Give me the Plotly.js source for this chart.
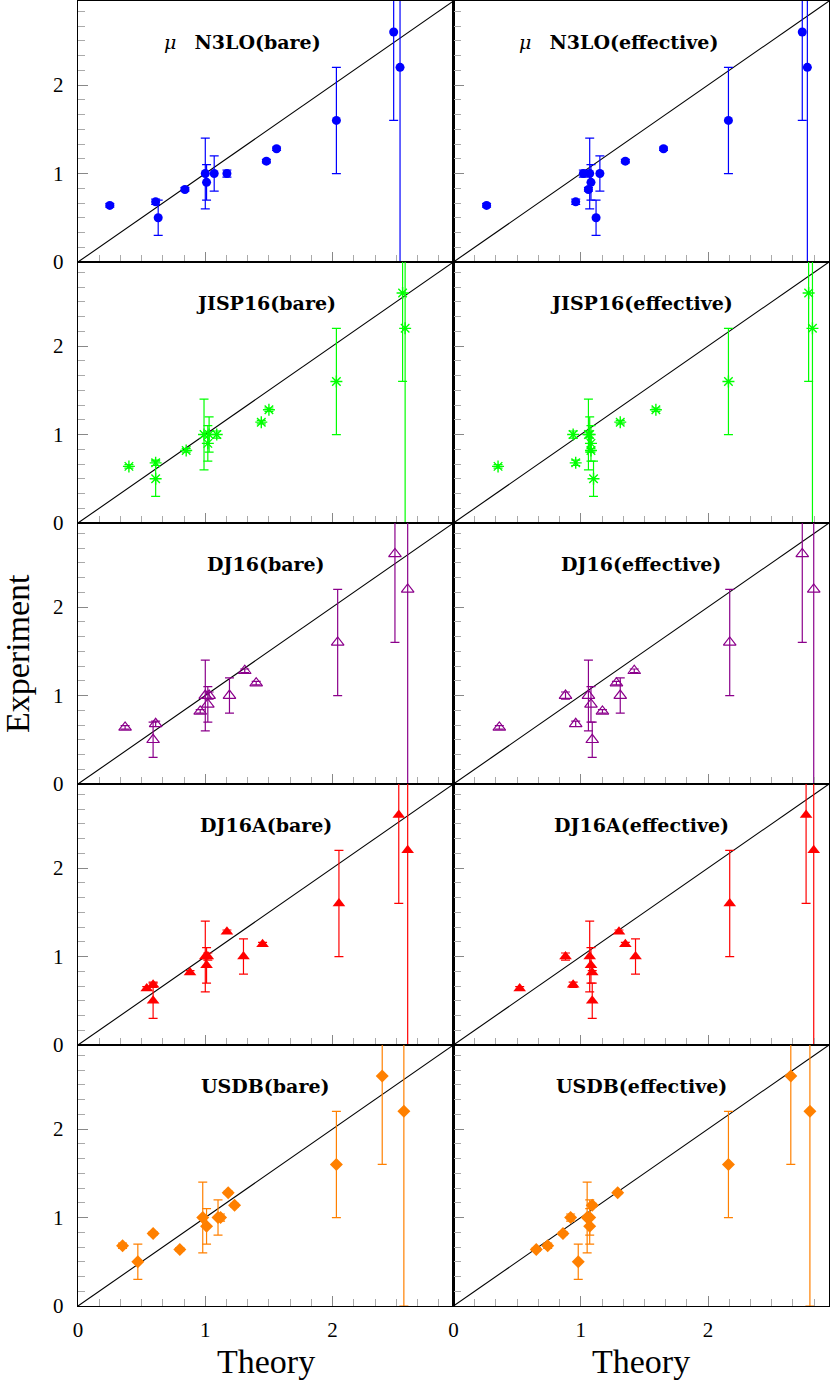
<!DOCTYPE html>
<html>
<head>
<meta charset="utf-8">
<script src="https://cdn.plot.ly/plotly-3.0.1.min.js"></script>
<style>html,body{margin:0;padding:0;background:#fff;}#chart{width:830px;height:1388px;}</style>
</head>
<body>
<div id="chart"></div>
<script>
// Experimental values (shared by all panels)
const expY   = [0.64, 0.68, 0.50, 0.82, 1.00, 0.90, 1.00, 1.00, 1.14, 1.28, 1.60, 2.60, 2.20];
const expErr = [0.02, 0.03, 0.20, 0.02, 0.40, 0.20, 0.20, 0.04, 0.02, 0.02, 0.60, 1.00, 2.20];

// Theory values per interaction
const n3loBare  = [0.25, 0.61, 0.63, 0.84, 1.00, 1.01, 1.07, 1.17, 1.48, 1.56, 2.03, 2.48, 2.53];
const n3loEff   = [0.26, 0.96, 1.12, 1.06, 1.07, 1.08, 1.15, 1.02, 1.35, 1.65, 2.16, 2.74, 2.78];
const jispBare  = [0.40, 0.61, 0.61, 0.85, 0.99, 1.02, 1.03, 1.09, 1.44, 1.50, 2.03, 2.55, 2.57];
const jispEff   = [0.35, 0.96, 1.10, 1.08, 1.06, 1.08, 1.07, 0.94, 1.31, 1.59, 2.16, 2.79, 2.82];
const dj16Bare  = [0.37, 0.61, 0.59, 0.96, 1.00, 1.02, 1.19, 1.03, 1.40, 1.31, 2.04, 2.49, 2.59];
const dj16Eff   = [0.36, 0.96, 1.09, 1.17, 1.06, 1.08, 1.31, 0.88, 1.28, 1.42, 2.17, 2.74, 2.83];
const dj16aBare = [0.54, 0.59, 0.59, 0.88, 1.00, 1.01, 1.30, 1.02, 1.45, 1.17, 2.05, 2.52, 2.59];
const dj16aEff  = [0.52, 0.94, 1.09, 1.09, 1.07, 1.08, 1.43, 0.88, 1.35, 1.30, 2.17, 2.77, 2.83];
const usdbBare  = [0.80, 0.35, 0.47, 0.59, 0.98, 1.01, 1.10, 1.12, 1.23, 1.18, 2.03, 2.39, 2.56];
const usdbEff   = [0.65, 0.74, 0.98, 0.86, 1.05, 1.07, 1.07, 0.92, 1.09, 1.29, 2.16, 2.65, 2.80];

const panelTitles = [
  "<i>μ</i>\u00a0\u00a0\u00a0<b>N3LO(bare)</b>", "<i>μ</i>\u00a0\u00a0\u00a0<b>N3LO(effective)</b>",
  "<b>JISP16(bare)</b>", "<b>JISP16(effective)</b>",
  "<b>DJ16(bare)</b>", "<b>DJ16(effective)</b>",
  "<b>DJ16A(bare)</b>", "<b>DJ16A(effective)</b>",
  "<b>USDB(bare)</b>", "<b>USDB(effective)</b>"
];
const theoryX = [n3loBare, n3loEff, jispBare, jispEff, dj16Bare, dj16Eff, dj16aBare, dj16aEff, usdbBare, usdbEff];
const diagX = [0, 3];
const diagY = [0, 3];
const xTickVals = [0, 1, 2];
const yTickVals = [0, 1, 2];
const xAxisTitle = "Theory";
const yAxisTitle = "Experiment";

const rowStyles = [
  {color: "#0000ff", symbol: "circle", size: 9, lw: 0},
  {color: "#00ff00", symbol: "asterisk-open", size: 10, lw: 1.4},
  {color: "#8b008b", symbol: "triangle-up-open", size: 11, lw: 1.2},
  {color: "#ff0000", symbol: "triangle-up", size: 11, lw: 0},
  {color: "#ff8000", symbol: "diamond", size: 10, lw: 0}
];
const titleOffsetX = [0.438, 0.439, 0.5, 0.5, 0.5, 0.5, 0.5, 0.5, 0.5, 0.5];

const traces = [];
const layout = {
  width: 830, height: 1388,
  margin: {l: 78, r: 1, t: 1, b: 82},
  paper_bgcolor: "#fff", plot_bgcolor: "#fff",
  showlegend: false,
  font: {family: "Liberation Serif, serif", color: "#000", size: 21},
  annotations: []
};

const R = 2.95;
for (let i = 0; i < 10; i++) {
  const row = Math.floor(i / 2), col = i % 2;
  const n = i + 1;
  const xa = n === 1 ? "x" : "x" + n;
  const ya = n === 1 ? "y" : "y" + n;
  const st = rowStyles[row];
  traces.push({
    x: diagX, y: diagY, xaxis: xa, yaxis: ya, mode: "lines",
    line: {color: "#000", width: 1.1}, hoverinfo: "skip"
  });
  traces.push({
    x: theoryX[i], y: expY, xaxis: xa, yaxis: ya, mode: "markers",
    marker: {color: st.color, symbol: st.symbol, size: st.size, line: {color: st.color, width: st.lw}},
    error_y: {type: "data", array: expErr, visible: true, color: st.color, thickness: 1.2, width: 4.5}
  });
  const top = 1 - row / 5, bot = 1 - (row + 1) / 5;
  const common = {
    range: [0, R], showgrid: false, zeroline: false,
    showline: true, linecolor: "#000", linewidth: 1.3, mirror: true,
    ticks: "inside", ticklen: 10, tickwidth: 1, tickcolor: "#888",
    tickfont: {family: "Liberation Serif, serif", size: 21, color: "#000"},
    minor: {dtick: 1 / 6, ticks: "inside", ticklen: 7, tickwidth: 1, tickcolor: "#aaa", showgrid: false},
    tickmode: "array"
  };
  layout["xaxis" + (n === 1 ? "" : n)] = Object.assign({}, common, {
    domain: [col * 0.5, col * 0.5 + 0.5], anchor: ya,
    tickvals: xTickVals, ticktext: xTickVals.map(String),
    showticklabels: row === 4, ticklabelstandoff: 4
  });
  layout["yaxis" + (n === 1 ? "" : n)] = Object.assign({}, common, {
    domain: [bot, top], anchor: xa,
    tickvals: yTickVals, ticktext: yTickVals.map(String),
    showticklabels: col === 0, ticklabelstandoff: 9
  });
  layout.annotations.push({
    text: panelTitles[i], xref: xa + " domain", yref: ya + " domain",
    x: titleOffsetX[i], y: 1 - 41 / 261, xanchor: "center", yanchor: "middle",
    showarrow: false, font: {family: "DejaVu Serif, serif", size: 19, color: "#000"}
  });
}
// axis titles
[0.25, 0.75].forEach(function (cx) {
  layout.annotations.push({
    text: xAxisTitle, xref: "paper", yref: "paper", x: cx, y: -0.0425,
    xanchor: "center", yanchor: "middle", showarrow: false,
    font: {family: "Liberation Serif, serif", size: 34, color: "#000"}
  });
});
layout.annotations.push({
  text: yAxisTitle, xref: "paper", yref: "paper", x: -0.0805, y: 0.5,
  xanchor: "center", yanchor: "middle", textangle: -90, showarrow: false,
  font: {family: "Liberation Serif, serif", size: 34, color: "#000"}
});

Plotly.newPlot("chart", traces, layout, {displayModeBar: false, staticPlot: true});
</script>
</body>
</html>
